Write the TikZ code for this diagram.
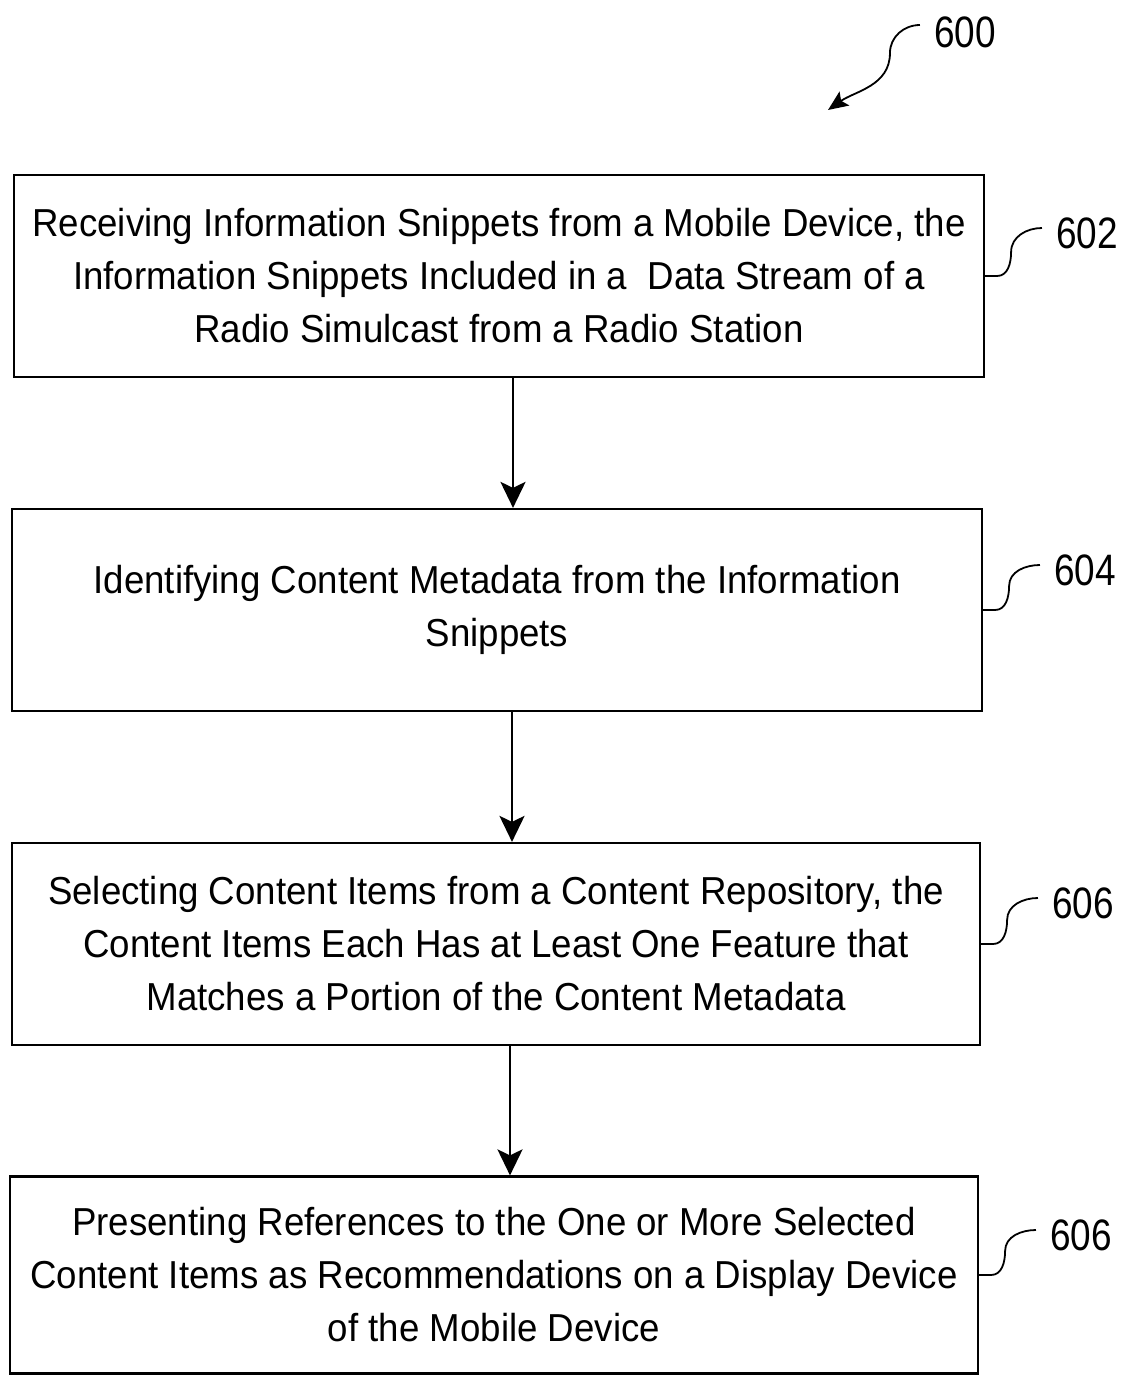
\documentclass[tikz,border=0pt]{standalone}
\usepackage{fontspec}
\setmainfont{Liberation Sans}[FakeStretch=0.94]
\newfontfamily\numfont{Liberation Sans}[FakeStretch=0.84]
\usetikzlibrary{arrows.meta}

\begin{document}
\begin{tikzpicture}[x=1pt,y=-1pt,
    stepbox/.style={draw,line width=2.2pt,minimum width=970pt,minimum height=202pt,
        inner sep=0pt,align=center,font=\fontsize{39}{53}\selectfont},
    refnum/.style={inner sep=0pt,font=\numfont\fontsize{44}{44}\selectfont},
    flow/.style={line width=2.8pt,-{Stealth[length=26pt,width=25pt,inset=6pt]}},
    lead/.style={line width=1.8pt}]
    \useasboundingbox (0,0) rectangle (1120,1377);
    % boxes
    \node [stepbox] (b602) at (499,276) {Receiving Information Snippets from a Mobile Device, the\\
        Information Snippets Included in a\ \ Data Stream of a\\Radio Simulcast from a Radio Station};
    \node [stepbox] (b604) at (497,610) {Identifying Content Metadata from the Information\\Snippets};
    \node [stepbox,minimum width=968pt] (b606) at (496,944) {Selecting Content Items from a Content Repository, the\\
        Content Items Each Has at Least One Feature that\\Matches a Portion of the Content Metadata};
    \node [stepbox,minimum width=968pt,minimum height=197pt] (b608) at (494,1275) {Presenting References to the One or More Selected\\
        Content Items as Recommendations on a Display Device\\of the Mobile Device};
    % flow
    \draw [flow] ([xshift=14pt]b602.south) -- ([xshift=16pt]b604.north);
    \draw [flow] ([xshift=15pt]b604.south) -- ([xshift=16pt]b606.north);
    \draw [flow] ([xshift=14pt]b606.south) -- ([xshift=16pt]b608.north);
    % reference numerals
    \node [refnum] (l600) at (965,32) {600};
    \node [refnum] (l602) at (1087,233) {602};
    \node [refnum] (l604) at (1085,570) {604};
    \node [refnum] (l606) at (1083,903) {606};
    \node [refnum] (l608) at (1081,1235) {606};
    \coordinate (t600) at (828,110);
    \draw [lead,-{Stealth[length=20pt,width=17pt,inset=4pt]}] ([xshift=-14pt,yshift=7pt]l600.west)
        to[out=180,in=90] ++(-30,28) to[out=-90,in=35] (t600);
    \foreach \b/\l in {b602/l602,b604/l604,b606/l606,b608/l608}
        \draw [lead] (\b.east) -- ++(12,0) to[out=0,in=-90] ++(14,-24)
            to[out=90,in=180] ([xshift=-14pt,yshift=5pt]\l.west);
\end{tikzpicture}
\end{document}
